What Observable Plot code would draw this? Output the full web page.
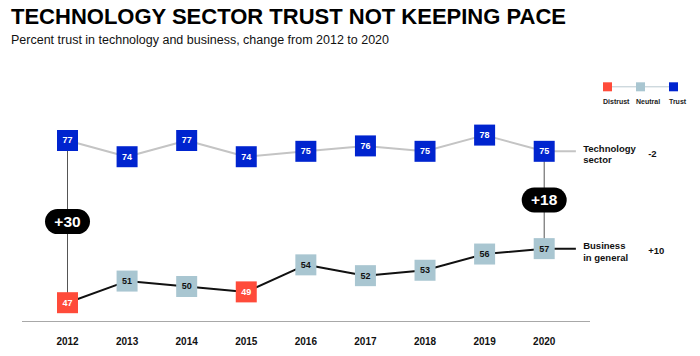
<!DOCTYPE html>
<html>
<head>
<meta charset="utf-8">
<script src="https://cdn.jsdelivr.net/npm/d3@7"></script>
<script src="https://cdn.jsdelivr.net/npm/@observablehq/plot@0.6"></script>
<style>
  html, body { margin: 0; padding: 0; background: #fff; }
  body { width: 700px; height: 356px; position: relative; overflow: hidden; font-family: "Liberation Sans", Arial, sans-serif; }
  #head { position: relative; height: 60px; }
  #title { position: absolute; left: 11px; top: 6.4px; font-size: 22px; line-height: 22px; font-weight: bold; color: #000; white-space: nowrap; }
  #subtitle { position: absolute; left: 11px; top: 34px; font-size: 12.5px; line-height: 12.5px; color: #111; white-space: nowrap; }
  #legend { position: absolute; left: 590px; top: 76px; }
  #chart svg, #legend svg { display: block; overflow: visible; }
</style>
</head>
<body>
<div id="head">
  <div id="title">TECHNOLOGY SECTOR TRUST NOT KEEPING PACE</div>
  <div id="subtitle">Percent trust in technology and business, change from 2012 to 2020</div>
</div>
<div id="chart"></div>
<div id="legend"></div>
<script>
// ---- data ----
const years = [2012, 2013, 2014, 2015, 2016, 2017, 2018, 2019, 2020];
const techTrust = [77, 74, 77, 74, 75, 76, 75, 78, 75];
const businessTrust = [47, 51, 50, 49, 54, 52, 53, 56, 57];
const seriesNames = ["Technology\nsector", "Business\nin general"];
const changeLabels = ["-2", "+10"];
const gapYears = [2012, 2020];
const gapLabels = ["+30", "+18"];
const trustLevels = ["Distrust", "Neutral", "Trust"];
const levelThresholds = [50, 60];
const levelColors = ["#ff4b3a", "#a9c6d1", "#0024cf"];

// ---- derived tables ----
const tech = years.map((year, i) => ({year, value: techTrust[i]}));
const business = years.map((year, i) => ({year, value: businessTrust[i]}));
const allPoints = tech.concat(business);
const levelOf = v => trustLevels[d3.bisectRight(levelThresholds, v)];
const last = years.length - 1;
const endPoints = [
  {name: seriesNames[0], change: changeLabels[0], year: years[last], value: techTrust[last]},
  {name: seriesNames[1], change: changeLabels[1], year: years[last], value: businessTrust[last]}
];
const gaps = gapYears.map((year, i) => {
  const j = years.indexOf(year);
  return {year, top: techTrust[j], bottom: businessTrust[j], label: gapLabels[i]};
});

const font = "'Liberation Sans', Arial, sans-serif";
const squareR = 21 / Math.sqrt(Math.PI);
const pill = {
  draw(ctx) {
    const w = 45, h = 25, r = h / 2, hw = w / 2 - r;
    ctx.moveTo(-hw, -r);
    ctx.lineTo(hw, -r);
    ctx.arc(hw, 0, r, -Math.PI / 2, Math.PI / 2);
    ctx.lineTo(-hw, r);
    ctx.arc(-hw, 0, r, Math.PI / 2, 3 * Math.PI / 2);
    ctx.closePath();
  }
};

const chart = Plot.plot({
  width: 700,
  height: 296,
  marginLeft: 22,
  marginRight: 111,
  marginTop: 0,
  marginBottom: 35,
  style: {fontFamily: font, background: "transparent"},
  x: {domain: [years[0], years[last]], range: [67, 543.7], axis: null},
  y: {domain: [47, 77], range: [242.2, 80], axis: null},
  color: {type: "threshold", domain: levelThresholds, range: levelColors},
  marks: [
    Plot.frame({anchor: "bottom", stroke: "#a8a8a8", strokeWidth: 1}),
    Plot.axisX({ticks: years, tickFormat: d => String(d), tickSize: 0, tickPadding: 16,
      fontSize: 10, fontWeight: "bold", fill: "#111", label: null}),
    // gap connectors
    Plot.ruleX(gaps, {x: "year", y1: "bottom", y2: "top", stroke: "#555", strokeWidth: 1}),
    // extension lines to labels
    Plot.ruleY(endPoints.slice(0, 1), {y: "value", x1: "year", x2: d => d.year + 0.54, stroke: "#c4c4c4", strokeWidth: 2}),
    Plot.ruleY(endPoints.slice(1), {y: "value", x1: "year", x2: d => d.year + 0.54, stroke: "#111", strokeWidth: 2}),
    // series lines
    Plot.line(tech, {x: "year", y: "value", stroke: "#c4c4c4", strokeWidth: 2}),
    Plot.line(business, {x: "year", y: "value", stroke: "#111", strokeWidth: 2}),
    // squares
    Plot.dot(allPoints, {x: "year", y: "value", symbol: "square", r: squareR, fill: "value", stroke: "none"}),
    Plot.text(allPoints, {x: "year", y: "value", text: d => String(d.value), fontSize: 9, fontWeight: "bold",
      fill: d => levelOf(d.value) === "Neutral" ? "#111" : "#fff"}),
    // gap pills
    Plot.dot(gaps, {x: "year", y: d => (d.top + d.bottom) / 2, symbol: pill, r: 5, fill: "#000", stroke: "none"}),
    Plot.text(gaps, {x: "year", y: d => (d.top + d.bottom) / 2, text: "label", fontSize: 15.5, fontWeight: "bold", fill: "#fff", dy: 0.5}),
    // end labels
    Plot.text(endPoints, {x: "year", y: "value", text: "name", textAnchor: "start", dx: 39, dy: 2.6,
      fontSize: 9.5, fontWeight: "bold", lineHeight: 1.22, fill: "#111"}),
    Plot.text(endPoints, {x: "year", y: "value", text: "change", textAnchor: "start", dx: 104, dy: 2.8,
      fontSize: 9.5, fontWeight: "bold", fill: "#111"})
  ]
});
document.getElementById("chart").appendChild(chart);

// legend
const legend = Plot.plot({
  width: 110,
  height: 30,
  margin: 0,
  style: {fontFamily: font, background: "transparent"},
  x: {type: "point", domain: trustLevels, range: [16.7, 84], padding: 0, axis: null},
  y: {domain: [0, 1], range: [10.3, 0], axis: null},
  color: {domain: trustLevels, range: levelColors},
  marks: [
    Plot.ruleY([0], {x1: () => trustLevels[0], x2: () => trustLevels[trustLevels.length - 1], stroke: "#b9c9d0", strokeWidth: 1}),
    Plot.dot(trustLevels, {x: d => d, y: () => 0, symbol: "square", r: 9 / Math.sqrt(Math.PI), fill: d => d}),
    Plot.text(trustLevels, {x: d => d, y: () => 0, text: d => d, textAnchor: "start", dx: -4.5, dy: 14.5,
      fontSize: 7, fontWeight: "bold", fill: "#222"})
  ]
});
document.getElementById("legend").appendChild(legend);
</script>
</body>
</html>
